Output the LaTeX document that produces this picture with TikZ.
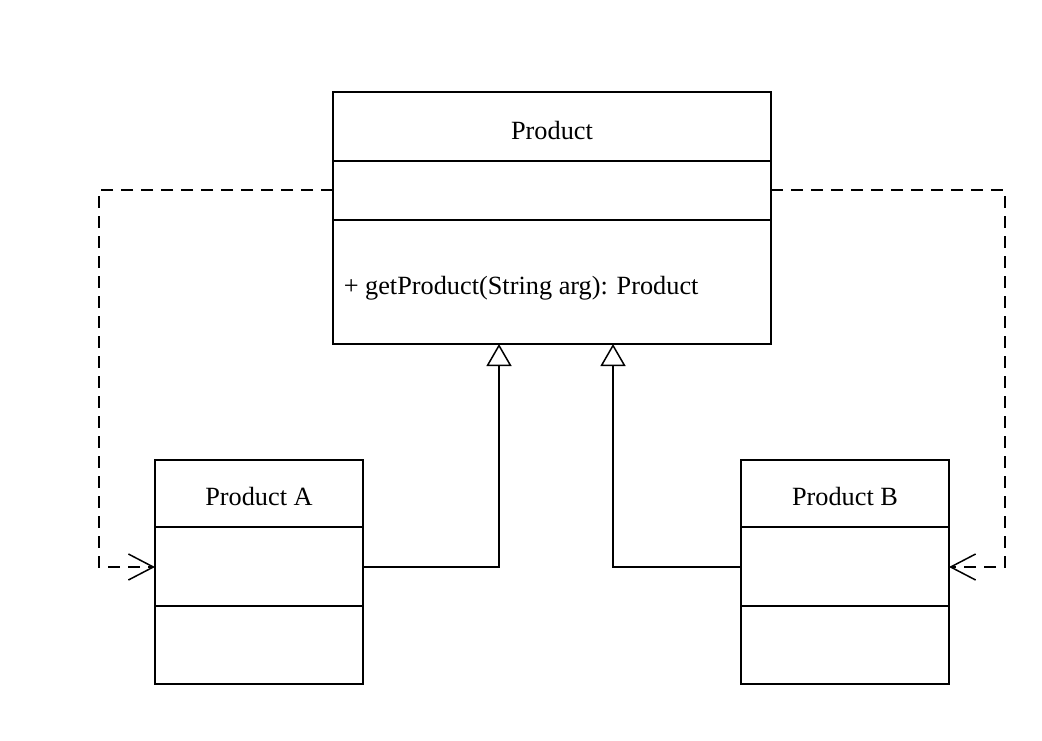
\documentclass[tikz,border=0pt]{standalone}
\usepackage{fontspec}
\setmainfont{Liberation Serif}
\usetikzlibrary{arrows.meta}
\begin{document}
\begin{tikzpicture}[x=1pt,y=-1pt,
  line width=1.5pt,
  txt/.style={font=\fontsize{26.3}{30}\selectfont, inner sep=0pt},
  inh/.style={-{Triangle[open,width=25pt,length=22pt,line width=1.5pt]}},
  dep/.style={dashed, dash pattern=on 12pt off 8pt, -{Straight Barb[width=26pt,length=25pt,line width=1.5pt]}}]
\useasboundingbox (0,0) rectangle (1042,740);
% Product
\draw (333,92) rectangle (771,344);
\draw (333,161) -- (771,161);
\draw (333,220) -- (771,220);
\node[txt] (ptitle) at (552,130) {Product};
\node[txt, anchor=west] (pop) at (343,288) {+ getProduct(String arg): Product};
\coordinate (ptop) at (552,92);
% Product A
\draw (155,460) rectangle (363,684);
\draw (155,527) -- (363,527);
\draw (155,606) -- (363,606);
\node[txt] (atitle) at (259,496) {Product A};
% Product B
\draw (741,460) rectangle (949,684);
\draw (741,527) -- (949,527);
\draw (741,606) -- (949,606);
\node[txt] (btitle) at (845,496) {Product B};
% coordinates
\coordinate (aR) at (363,567);
\coordinate (aL) at (155,567);
\coordinate (bL) at (741,567);
\coordinate (bR) at (949,567);
\coordinate (pA) at (499,344);
\coordinate (pB) at (613,344);
\coordinate (pL) at (333,190);
\coordinate (pR) at (771,190);
% inheritance
\draw[inh] (aR) -- (499,567) -- (pA);
\draw[inh] (bL) -- (613,567) -- (pB);
% dependencies
\draw[dep] (pL) -- (99,190) -- (99,567) -- (aL);
\draw[dep] (pR) -- (1005,190) -- (1005,567) -- (bR);
\end{tikzpicture}
\end{document}
